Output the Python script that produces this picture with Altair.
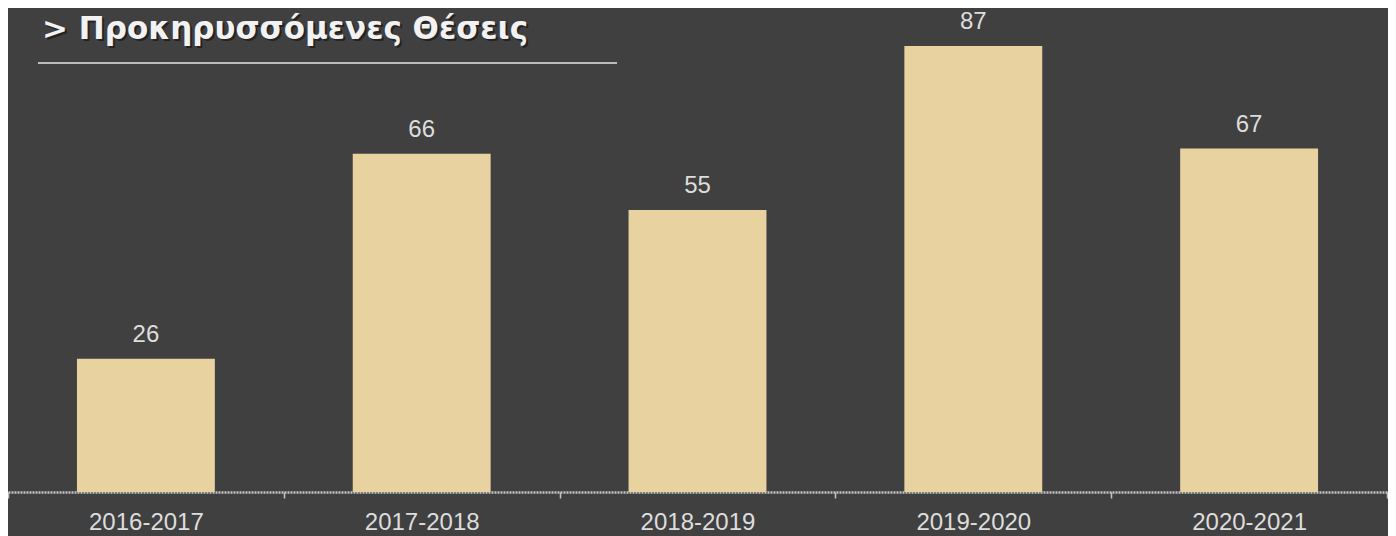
import altair as alt
import pandas as pd

periods = ["2016-2017", "2017-2018", "2018-2019", "2019-2020", "2020-2021"]
positions = [26, 66, 55, 87, 67]
title_text = "> Προκηρυσσόμενες Θέσεις"

df = pd.DataFrame({"period": periods, "value": positions})

W, H = 1379, 484

x = alt.X("period:N", sort=periods, title=None,
          scale=alt.Scale(paddingInner=0, paddingOuter=0),
          axis=alt.Axis(labelAngle=0, labelFontSize=24, labelColor="#dddddd",
                        labelFont="Liberation Sans", labelPadding=12,
                        domainColor="#c4c4c4", domainWidth=2.5, domainDash=[2, 1],
                        tickColor="#c4c4c4", tickSize=6, tickWidth=1.5,
                        tickBand="extent"))
y = alt.Y("value:Q", scale=alt.Scale(domain=[0, 94.41], nice=False, zero=True),
          axis=None)

bars = alt.Chart(df).mark_bar(color="#e8d3a0",
                              width=alt.RelativeBandSize(0.5)).encode(x=x, y=y)
labels = alt.Chart(df).mark_text(baseline="alphabetic", dy=-17, fontSize=24,
                                 font="Liberation Sans", color="#dddddd").encode(
    x=x, y=y, text="value:Q")

tdf = pd.DataFrame({"t": [title_text]})
shadow = alt.Chart(tdf).mark_text(align="left", baseline="alphabetic", fontSize=31,
                                  font="DejaVu Sans", fontWeight="bold",
                                  color="#111111", opacity=0.6).encode(
    x=alt.value(36), y=alt.value(33), text="t:N")
title = alt.Chart(tdf).mark_text(align="left", baseline="alphabetic", fontSize=31,
                                 font="DejaVu Sans", fontWeight="bold",
                                 color="#f2f2f2").encode(
    x=alt.value(34), y=alt.value(31), text="t:N")
rule = alt.Chart(tdf).mark_rule(color="#e6e6e6", strokeWidth=1.5).encode(
    x=alt.value(30), x2=alt.value(609), y=alt.value(55))

chart = alt.layer(bars, labels, shadow, title, rule).properties(
    width=W, height=H,
    background="#404040",
    padding={"left": 0, "top": 0, "right": 1, "bottom": 44},
    autosize=alt.AutoSizeParams(type="none"),
).configure_view(stroke=None)

chart.save("out.html", embed_options={"renderer": "svg", "actions": False})
